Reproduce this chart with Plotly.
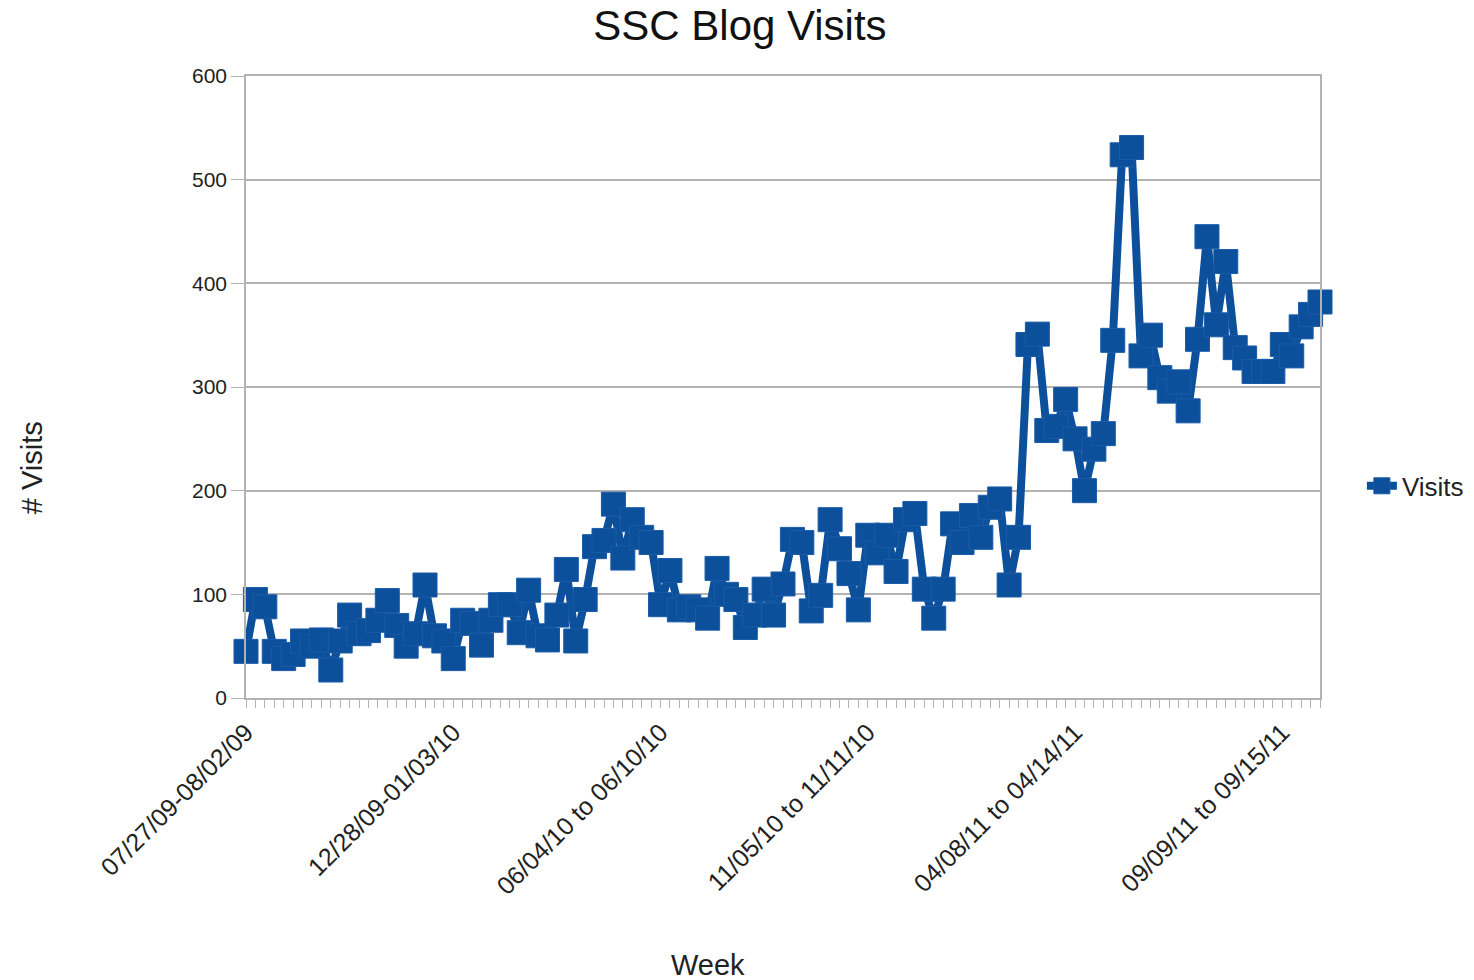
import plotly.graph_objects as go

# Week index (0 = 07/27/09-08/02/09)
week_index = list(range(115))

visits = [
    45, 95, 88, 45, 38, 42, 55, 50, 56, 27,
    55, 80, 62, 65, 75, 94, 70, 50, 62, 109,
    60, 55, 38, 75, 72, 51, 75, 90, 90, 63,
    104, 60, 56, 80, 124, 55, 95, 146, 152, 187,
    135, 172, 155, 150, 90, 123, 85, 88, 85, 77,
    125, 100, 95, 68, 80, 105, 80, 110, 153, 150,
    84, 99, 172, 144, 120, 85, 157, 140, 157, 122,
    172, 178, 105, 77, 105, 168, 150, 176, 155, 184,
    192, 109, 155, 341, 351, 258, 262, 288, 250, 200,
    240, 255, 345, 524, 531, 330, 350, 309, 296, 305,
    277, 346, 445, 360, 421, 338, 328, 315, 315, 315,
    341, 330, 358, 370, 382,
]

label_positions = [0, 22, 44, 66, 88, 110]
label_texts = [
    "07/27/09-08/02/09",
    "12/28/09-01/03/10",
    "06/04/10 to 06/10/10",
    "11/05/10 to 11/11/10",
    "04/08/11 to 04/14/11",
    "09/09/11 to 09/15/11",
]

y_ticks = [0, 100, 200, 300, 400, 500, 600]

tick_text = [""] * len(week_index)
for p, t in zip(label_positions, label_texts):
    tick_text[p] = t

BLUE = "#0c4f9b"
FONT = "Liberation Sans, Arial, sans-serif"

fig = go.Figure()
fig.add_trace(go.Scatter(
    x=week_index, y=visits, mode="lines+markers", name="Visits",
    line=dict(color=BLUE, width=8),
    marker=dict(symbol="square", size=24, color=BLUE,
                line=dict(color="#1a5ca8", width=1)),
    cliponaxis=False,
))

fig.update_layout(
    width=1474, height=980,
    margin=dict(l=246, r=154, t=76, b=282, autoexpand=False),
    paper_bgcolor="white", plot_bgcolor="white",
    font=dict(family=FONT, color="#222222", size=21),
    title=dict(text="SSC Blog Visits", x=0.502, xanchor="center",
               y=0.974, yanchor="middle",
               font=dict(size=42, color="#111111", family=FONT)),
    showlegend=True,
    legend=dict(x=1.039, y=0.341, xanchor="left", yanchor="middle",
                font=dict(size=26, color="#222222"),
                bgcolor="rgba(0,0,0,0)", itemwidth=30),
    xaxis=dict(
        range=[0, 114], tickmode="array", tickvals=week_index, ticktext=tick_text,
        tickangle=-45, ticks="outside", ticklen=8, tickcolor="#b3b3b3",
        showgrid=False, showline=True, linecolor="#b3b3b3", linewidth=1.5,
        mirror=True, zeroline=False, tickfont=dict(size=25),
    ),
    yaxis=dict(
        range=[0, 600], tickmode="array", tickvals=y_ticks,
        ticks="outside", ticklen=13, tickcolor="#b3b3b3",
        showgrid=True, gridcolor="#b3b3b3", gridwidth=1.5,
        showline=True, linecolor="#b3b3b3", linewidth=1.5, mirror=True,
        zeroline=False, tickfont=dict(size=21),
    ),
    annotations=[
        dict(text="# Visits", xref="paper", yref="paper", x=-0.199, y=0.37,
             textangle=-90, showarrow=False, font=dict(size=29),
             xanchor="center", yanchor="middle"),
        dict(text="Week", xref="paper", yref="paper", x=0.430, y=-0.429,
             showarrow=False, font=dict(size=29),
             xanchor="center", yanchor="middle"),
    ],
)

fig.write_html("out.html")
